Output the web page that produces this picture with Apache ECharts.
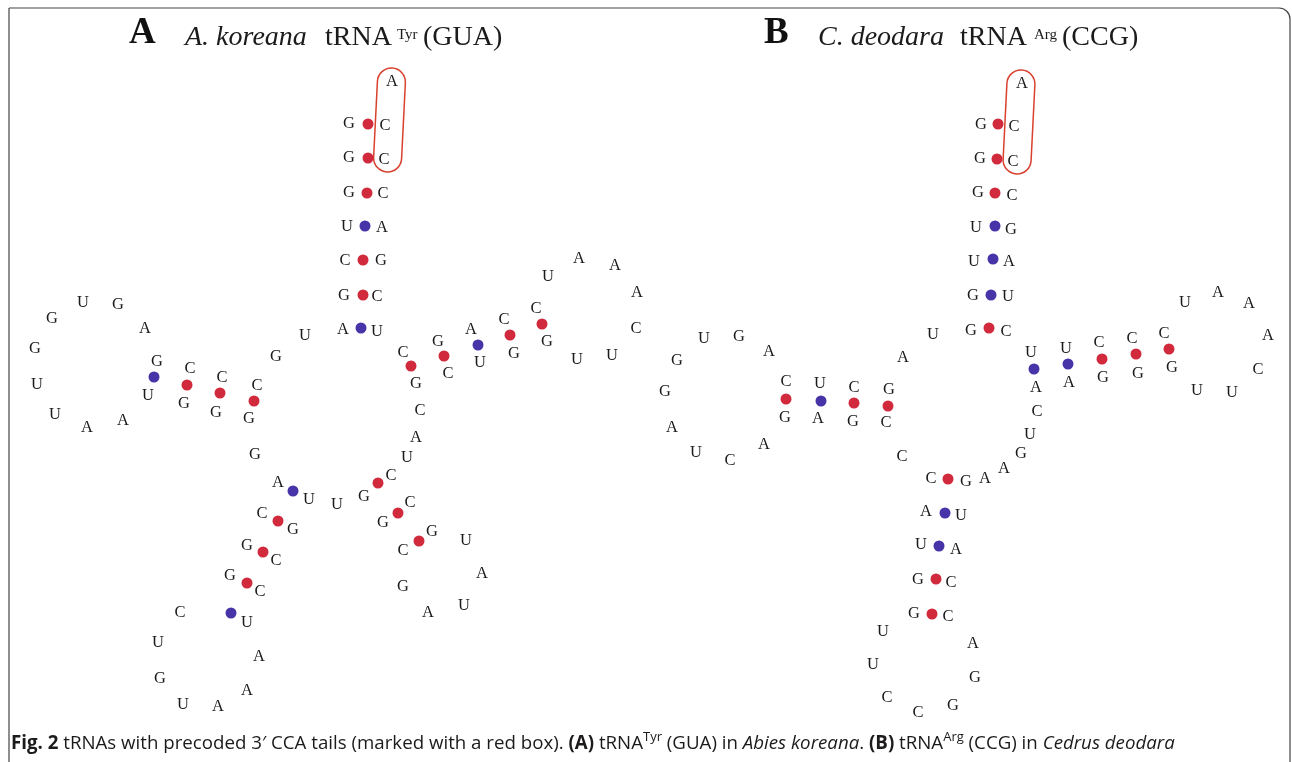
<!DOCTYPE html>
<html lang="en">
<head>
<meta charset="UTF-8">
<title>tRNA CCA tails</title>
<script src="https://cdn.jsdelivr.net/npm/echarts@6/dist/echarts.min.js"></script>
<style>
  html, body { margin: 0; padding: 0; background: #fff; }
  #main { width: 1292px; height: 762px; }
</style>
</head>
<body>
<div id="main"></div>
<script type="text/javascript">
// nucleotide positions [x, y, base] (page pixels)
var tyrBases = [
  [392, 82, 'A'],
  [349, 124, 'G'], [385, 126, 'C'], [349, 158, 'G'], [384, 160, 'C'],
  [349, 193, 'G'], [383, 194, 'C'], [347, 227, 'U'], [382, 228, 'A'],
  [345, 261, 'C'], [381, 261, 'G'], [344, 296, 'G'], [377, 297, 'C'],
  [343, 330, 'A'], [377, 332, 'U'],
  [305, 336, 'U'], [276, 357, 'G'],
  [257, 386, 'C'], [222, 378, 'C'], [190, 369, 'C'], [157, 362, 'G'],
  [145, 329, 'A'], [118, 305, 'G'], [83, 303, 'U'], [52, 319, 'G'],
  [35, 349, 'G'], [37, 385, 'U'], [55, 415, 'U'], [87, 428, 'A'],
  [123, 421, 'A'], [148, 396, 'U'], [184, 404, 'G'], [216, 413, 'G'],
  [249, 419, 'G'], [255, 455, 'G'],
  [278, 483, 'A'], [262, 514, 'C'], [247, 546, 'G'], [230, 576, 'G'],
  [180, 613, 'C'], [158, 643, 'U'], [160, 679, 'G'], [183, 705, 'U'],
  [218, 707, 'A'], [247, 691, 'A'], [259, 657, 'A'], [247, 623, 'U'],
  [260, 592, 'C'], [276, 561, 'C'], [293, 530, 'G'], [309, 500, 'U'],
  [337, 505, 'U'],
  [364, 497, 'G'], [383, 523, 'G'], [403, 551, 'C'], [403, 587, 'G'],
  [428, 613, 'A'], [464, 606, 'U'], [482, 574, 'A'], [466, 541, 'U'],
  [432, 532, 'G'], [410, 503, 'C'], [391, 476, 'C'], [407, 458, 'U'],
  [416, 438, 'A'], [420, 411, 'C'], [416, 384, 'G'], [403, 353, 'C'],
  [438, 342, 'G'], [448, 374, 'C'], [471, 330, 'A'], [480, 363, 'U'],
  [504, 320, 'C'], [514, 354, 'G'], [536, 309, 'C'], [547, 342, 'G'],
  [548, 277, 'U'], [579, 259, 'A'], [615, 266, 'A'], [637, 293, 'A'],
  [636, 329, 'C'], [612, 356, 'U'], [577, 360, 'U']
];
var tyrGC = [
  [368, 124], [368, 158], [367, 193], [363, 260], [363, 295],
  [187, 385], [220, 393], [254, 401],
  [411, 366], [444, 356], [510, 335], [542, 324],
  [278, 521], [263, 552], [247, 583],
  [378, 483], [398, 513], [419, 541]
];
var tyrAU = [[365, 226], [361, 328], [154, 377], [478, 345], [293, 491], [231, 613]];

var argBases = [
  [1022, 84, 'A'],
  [981, 125, 'G'], [1014, 127, 'C'], [980, 159, 'G'], [1013, 162, 'C'],
  [978, 193, 'G'], [1012, 196, 'C'], [976, 228, 'U'], [1011, 230, 'G'],
  [974, 262, 'U'], [1009, 262, 'A'], [973, 296, 'G'], [1008, 297, 'U'],
  [971, 331, 'G'], [1006, 332, 'C'],
  [933, 335, 'U'], [903, 358, 'A'],
  [889, 390, 'G'], [854, 388, 'C'], [820, 384, 'U'], [786, 382, 'C'],
  [769, 352, 'A'], [739, 337, 'G'], [704, 339, 'U'], [677, 361, 'G'],
  [665, 392, 'G'], [672, 428, 'A'], [696, 453, 'U'], [730, 461, 'C'],
  [764, 445, 'A'], [785, 418, 'G'], [818, 419, 'A'], [853, 422, 'G'],
  [886, 423, 'C'], [902, 457, 'C'],
  [931, 479, 'C'], [926, 512, 'A'], [921, 545, 'U'], [918, 580, 'G'],
  [914, 614, 'G'], [883, 632, 'U'], [873, 665, 'U'], [887, 698, 'C'],
  [918, 713, 'C'], [953, 706, 'G'], [975, 678, 'G'], [973, 644, 'A'],
  [948, 617, 'C'], [951, 583, 'C'], [956, 550, 'A'], [961, 516, 'U'],
  [966, 482, 'G'],
  [985, 479, 'A'], [1004, 469, 'A'], [1021, 454, 'G'], [1030, 435, 'U'],
  [1037, 412, 'C'],
  [1036, 388, 'A'], [1031, 353, 'U'], [1069, 383, 'A'], [1066, 349, 'U'],
  [1103, 378, 'G'], [1099, 343, 'C'], [1138, 374, 'G'], [1132, 339, 'C'],
  [1172, 368, 'G'], [1164, 334, 'C'], [1185, 303, 'U'], [1218, 293, 'A'],
  [1249, 304, 'A'], [1268, 336, 'A'], [1258, 370, 'C'], [1232, 393, 'U'],
  [1197, 391, 'U']
];
var argGC = [
  [998, 124], [997, 159], [995, 193], [989, 328],
  [786, 399], [854, 403], [888, 406],
  [948, 479], [936, 579], [932, 614],
  [1102, 359], [1136, 354], [1169, 349]
];
var argAU = [[995, 226], [993, 259], [991, 295], [821, 401], [945, 513], [939, 546], [1034, 369], [1068, 364]];

// CCA tail: first and last base of each boxed run (index into the base arrays)
var tyrTail = [0, 4];
var argTail = [0, 4];

var serif = '"Liberation Serif", "Times New Roman", serif';
var sans = '"Open Sans", sans-serif';
var ink = '#1c1a1b';
var gcColor = '#d02a3c';
var auColor = '#4634a8';

var myChart = echarts.init(document.getElementById('main'));

function baseSeries(data) {
  return {
    type: 'scatter',
    data: data,
    symbolSize: 1,
    itemStyle: { color: 'transparent', opacity: 1 },
    label: {
      show: true,
      position: 'inside',
      formatter: function (p) { return p.value[2]; },
      color: ink,
      opacity: 1,
      fontFamily: serif,
      fontSize: 16.5
    },
    silent: true,
    z: 3
  };
}
function dotSeries(data, color) {
  return {
    type: 'scatter',
    data: data,
    symbolSize: 11,
    itemStyle: { color: color, opacity: 1 },
    silent: true,
    z: 2
  };
}

function titleParts(x0, letter, species, sup, codon, xs) {
  return [
    { type: 'text', x: x0, y: 52, style: { text: letter, font: 'bold 37px ' + serif, fill: '#111', textVerticalAlign: 'bottom' } },
    { type: 'text', x: xs[0], y: 52, style: { text: species, font: 'italic 28px ' + serif, fill: ink, textVerticalAlign: 'bottom' } },
    { type: 'text', x: xs[1], y: 52, style: { text: 'tRNA', font: '28px ' + serif, fill: ink, textVerticalAlign: 'bottom' } },
    { type: 'text', x: xs[2], y: 43, style: { text: sup, font: '15px ' + serif, fill: ink, textVerticalAlign: 'bottom' } },
    { type: 'text', x: xs[3], y: 52, style: { text: codon, font: '28px ' + serif, fill: ink, textVerticalAlign: 'bottom' } }
  ];
}

var graphics = [
  {
    type: 'rect',
    shape: { x: 9, y: 8, width: 1281, height: 800, r: [0, 11, 0, 0] },
    style: { fill: 'none', stroke: '#444', lineWidth: 1.2 },
    silent: true
  },
  {
    type: 'text',
    left: 11,
    top: 731,
    style: {
      text: '{b|Fig. 2} tRNAs with precoded 3\u2032 CCA tails (marked with a red box). {b|(A)} tRNA{s|Tyr} (GUA) in {i|Abies koreana}. {b|(B)} tRNA{s|Arg} (CCG) in {i|Cedrus deodara}',
      font: '18.7px ' + sans,
      fill: ink,
      lineHeight: 26,
      rich: {
        b: { fontWeight: 'bold', fontSize: 18.7, fontFamily: sans, lineHeight: 26 },
        i: { fontStyle: 'italic', fontSize: 18.7, fontFamily: sans, lineHeight: 26 },
        s: { fontSize: 13, fontFamily: sans, verticalAlign: 'top', lineHeight: 15 }
      }
    }
  }
].concat(
  titleParts(129, 'A', 'A. koreana', 'Tyr', '(GUA)', [185, 325, 397, 423]),
  titleParts(764, 'B', 'C. deodara', 'Arg', '(CCG)', [818, 960, 1034, 1062])
);

myChart.setOption({
  animation: false,
  grid: { left: 0, right: 0, top: 0, bottom: 0 },
  xAxis: { type: 'value', min: 0, max: 1292, show: false },
  yAxis: { type: 'value', min: 0, max: 762, inverse: true, show: false },
  series: [
    dotSeries(tyrGC, gcColor),
    dotSeries(tyrAU, auColor),
    dotSeries(argGC, gcColor),
    dotSeries(argAU, auColor),
    baseSeries(tyrBases),
    baseSeries(argBases)
  ],
  graphic: graphics
});

// red boxes around the CCA tails, placed from the base positions
function tailBox(bases, tail) {
  var top = myChart.convertToPixel({ gridIndex: 0 }, bases[tail[0]].slice(0, 2));
  var bot = myChart.convertToPixel({ gridIndex: 0 }, bases[tail[1]].slice(0, 2));
  var h = bot[1] - top[1] + 26;
  return {
    type: 'rect',
    x: (top[0] + bot[0]) / 2 + 1.5,
    y: (top[1] + bot[1]) / 2 - 1,
    rotation: -0.05,
    shape: { x: -14, y: -h / 2, width: 28, height: h, r: 14 },
    style: { fill: 'none', stroke: '#d9412e', lineWidth: 1.5 },
    silent: true
  };
}
myChart.setOption({
  graphic: graphics.concat([tailBox(tyrBases, tyrTail), tailBox(argBases, argTail)])
});
</script>
</body>
</html>
